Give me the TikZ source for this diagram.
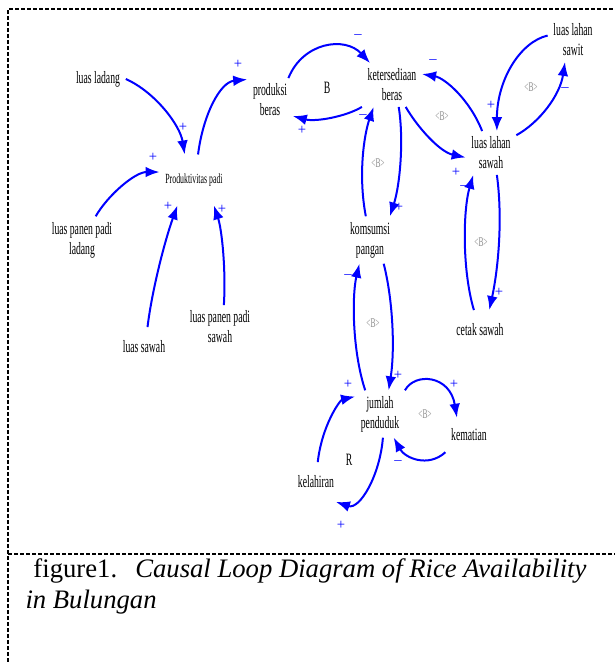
\documentclass[tikz,border=0pt]{standalone}
\usepackage{fontspec}
\setmainfont{Liberation Serif}
\newfontfamily\narrowfont[FakeStretch=0.56]{Liberation Serif}
\usetikzlibrary{arrows.meta}

\tikzset{every picture/.style={line width=0.75pt}}
\tikzset{
  cldvar/.style={inner xsep=4pt, inner ysep=4pt, align=center, font=\narrowfont\fontsize{13}{15}\selectfont},
  cld/.style={draw={rgb,255:red,0;green,0;blue,255}, line width=1.5pt, -{Latex[length=10.5pt,width=8pt]}},
  pol/.style={inner sep=0pt, text={rgb,255:red,0;green,0;blue,255}, font=\fontsize{11}{11}\selectfont},
  loopmark/.style={inner sep=0pt, text={rgb,255:red,140;green,140;blue,140}, font=\narrowfont\fontsize{10}{10}\selectfont},
  looplbl/.style={inner sep=0pt, font=\narrowfont\fontsize{13}{13}\selectfont},
  boxline/.style={dash pattern=on 3pt off 1.5pt, line width=1.1pt},
  captext/.style={anchor=base west, inner sep=0pt, font=\fontsize{20}{23}\selectfont},
}

\begin{document}
\begin{tikzpicture}[x=0.75pt,y=0.75pt,yscale=-1,xscale=1]
\useasboundingbox (0,0) rectangle (615,662);

%Straight Lines
\draw [boxline] (8,662) -- (8,9) -- (615,9) ;
%Straight Lines
\draw [boxline] (8,554) -- (615,554) ;

% Text Node
\draw (98,79) node [cldvar] (lad) {luas ladang};
% Text Node
\draw (194,180) node [cldvar][font=\narrowfont\fontsize{10.5}{12}\selectfont, inner ysep=14pt] (prod) {Produktivitas padi};
% Text Node
\draw (82,240) node [cldvar] (lpl) {luas panen padi\\ladang};
% Text Node
\draw (144,347) node [cldvar][inner ysep=10pt] (lsaw) {luas sawah};
% Text Node
\draw (220,327) node [cldvar] (lps) {luas panen padi\\sawah};
% Text Node
\draw (270,100) node [cldvar] (prb) {produksi\\beras};
% Text Node
\draw (392,85) node [cldvar] (ket) {ketersediaan\\beras};
% Text Node
\draw (491,153) node [cldvar] (lls) {luas lahan\\sawah};
% Text Node
\draw (573,40) node [cldvar] (llw) {luas lahan\\sawit};
% Text Node
\draw (370,240) node [cldvar] (kom) {komsumsi\\pangan};
% Text Node
\draw (480,330) node [cldvar][inner ysep=10pt] (cet) {cetak sawah};
% Text Node
\draw (380,414) node [cldvar] (jum) {jumlah\\penduduk};
% Text Node
\draw (469,435) node [cldvar][inner ysep=8pt] (kem) {kematian};
% Text Node
\draw (316,482) node [cldvar][inner ysep=10pt] (kel) {kelahiran};

%Curve Lines
\draw [cld] (lad.east) .. controls (155,92) and (180,125) .. (prod.110) ;
%Curve Lines
\draw [cld] (lpl.60) .. controls (108,195) and (135,172) .. (prod.167) ;
%Curve Lines
\draw [cld] (lsaw.80) .. controls (152,290) and (165,240) .. (prod.237) ;
%Curve Lines
\draw [cld] (lps.80) .. controls (226,270) and (222,230) .. (prod.-52) ;
%Curve Lines
\draw [cld] (prod.81) .. controls (203,115) and (220,82) .. (prb.138) ;
%Curve Lines
\draw [cld] (prb.50) .. controls (303,42) and (345,36) .. (ket.135) ;
%Curve Lines
\draw [cld] (ket.south west) .. controls (345,117) and (315,122) .. (prb.-35) ;
%Curve Lines
\draw [cld] (ket.-73) .. controls (404,140) and (400,185) .. (kom.50) ;
%Curve Lines
\draw [cld] (kom.100) .. controls (358,175) and (364,135) .. (ket.230) ;
%Curve Lines
\draw [cld] (ket.-58) .. controls (418,128) and (440,152) .. (lls.190) ;
%Curve Lines
\draw [cld] (lls.112) .. controls (470,100) and (445,78) .. (ket.20) ;
%Curve Lines
\draw [cld] (llw.170) .. controls (520,42) and (497,80) .. (lls.75) ;
%Curve Lines
\draw [cld] (lls.35) .. controls (540,122) and (560,95) .. (llw.250) ;
%Curve Lines
\draw [cld] (cet.107) .. controls (462,270) and (463,210) .. (lls.231) ;
%Curve Lines
\draw [cld] (lls.-75) .. controls (503,220) and (498,270) .. (cet.65) ;
%Curve Lines
\draw [cld] (kom.-60) .. controls (393,300) and (395,350) .. (jum.70) ;
%Curve Lines
\draw [cld] (jum.122) .. controls (352,350) and (352,295) .. (kom.246) ;
%Curve Lines
\draw [cld] (jum.north east) .. controls (415,372) and (450,375) .. (kem.125) ;
%Curve Lines
\draw [cld] (kem.south west) .. controls (428,468) and (405,458) .. (jum.-60) ;
%Curve Lines
\draw [cld] (kel.85) .. controls (322,425) and (340,400) .. (jum.145) ;
%Curve Lines
\draw [cld] (jum.-83) .. controls (380,475) and (360,510) .. (kel.-45) ;

% Text Node
\draw (183,127) node [pol] (s1) {+};
\draw (153,157) node [pol] (s2) {+};
\draw (168,206) node [pol] (s3) {+};
\draw (222,209) node [pol] (s4) {+};
\draw (238,64) node [pol] (s5) {+};
\draw (358,37) node [pol] (s6) {--};
\draw (302,130) node [pol] (s7) {+};
\draw (399,207) node [pol] (s8) {+};
\draw (363,117) node [pol] (s9) {--};
\draw (456,172) node [pol] (s10) {+};
\draw (433,62) node [pol] (s11) {--};
\draw (491,105) node [pol] (s12) {+};
\draw (565,90) node [pol] (s13) {--};
\draw (464,188) node [pol] (s14) {--};
\draw (499,292) node [pol] (s15) {+};
\draw (398,375) node [pol] (s16) {+};
\draw (348,277) node [pol] (s17) {--};
\draw (454,384) node [pol] (s18) {+};
\draw (398,463) node [pol] (s19) {--};
\draw (348,384) node [pol] (s20) {+};
\draw (341,525) node [pol] (s21) {+};

% Text Node
\draw (327,88) node [looplbl] (loopB) {B};
\draw (349,460) node [looplbl] (loopR) {R};
% Text Node
\draw (442,116) node [loopmark] (m1) {\textless B\textgreater};
\draw (531,87) node [loopmark] (m2) {\textless B\textgreater};
\draw (378,163) node [loopmark] (m3) {\textless B\textgreater};
\draw (481,242) node [loopmark] (m4) {\textless B\textgreater};
\draw (373,323) node [loopmark] (m5) {\textless B\textgreater};
\draw (425,414) node [loopmark] (m6) {\textless B\textgreater};

% Text Node
\draw (33,577) node [captext] (cap1) {figure1.\hspace{0.68em}\textit{Causal Loop Diagram of Rice Availability}};
% Text Node
\draw (25,608) node [captext] (cap2) {\textit{in Bulungan}};

\end{tikzpicture}
\end{document}
